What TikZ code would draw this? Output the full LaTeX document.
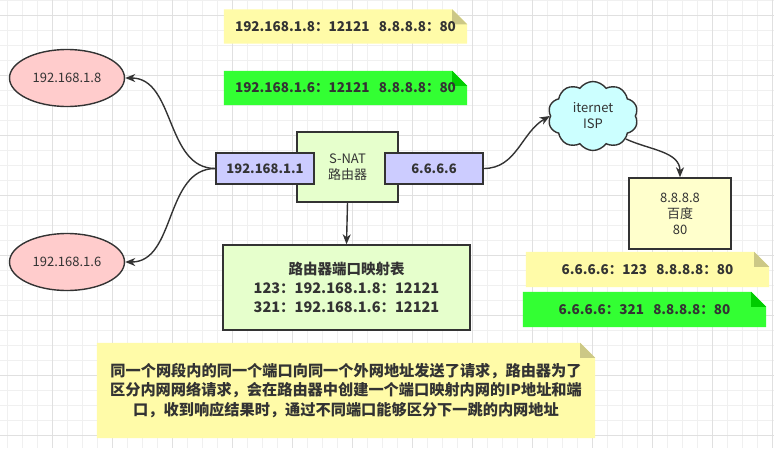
\documentclass[tikz,border=0pt]{standalone}
\usepackage{fontspec}
\setmainfont{Noto Sans CJK SC}
\usepackage{tikz}
\usetikzlibrary{arrows.meta, positioning, shapes.geometric, shapes.symbols, backgrounds}

\definecolor{ink}{HTML}{333333}
\definecolor{gridminor}{HTML}{F0F0F0}
\definecolor{gridmajor}{HTML}{E0E0E0}
\definecolor{hostred}{HTML}{FFCCCC}
\definecolor{portblue}{HTML}{CCCCFF}
\definecolor{routergreen}{HTML}{E6FFCC}
\definecolor{cloudcyan}{HTML}{CCFFFF}
\definecolor{serveryellow}{HTML}{FFFFCC}
\definecolor{noteyellow}{HTML}{FFFBA8}
\definecolor{foldyellow}{HTML}{CCC886}
\definecolor{notegreen}{HTML}{33FF33}
\definecolor{foldgreen}{HTML}{00CC00}

% note paper with a folded corner, drawn behind the text node
\newcommand{\notepaper}[3]{%
  \fill[#2] (#1.north west) -- ([xshift=-15pt]#1.north east) -- ([yshift=-15pt]#1.north east)
    -- (#1.south east) -- (#1.south west) -- cycle;
  \fill[#3] ([xshift=-15pt]#1.north east) -- ([xshift=-15pt,yshift=-15pt]#1.north east)
    -- ([yshift=-15pt]#1.north east) -- cycle;}

\begin{document}
\begin{tikzpicture}[x=1pt, y=-1pt, every node/.style={text=ink, font=\fontsize{13}{16}\selectfont},
    box/.style={rectangle, draw=ink, line width=1.4pt, align=center},
    host/.style={ellipse, draw=ink, line width=1.4pt, fill=hostred, minimum width=115pt, minimum height=57pt},
    port/.style={box, fill=portblue, minimum width=98pt, minimum height=31pt, font=\fontsize{13}{16}\selectfont\bfseries},
    note/.style={rectangle, align=center, minimum width=243pt, minimum height=34pt, font=\fontsize{13.5}{16}\selectfont\bfseries},
    link/.style={draw=ink, line width=1.4pt, -{Stealth[length=10pt, width=8pt, inset=3pt]}}]
    \useasboundingbox (0,0) rectangle (774,448);

    \node[host] (ip8) at (67,78) {192.168.1.8};
    \node[host] (ip6) at (67,262) {192.168.1.6};
    \node[box, fill=routergreen, minimum width=101pt, minimum height=70pt] (router) at (347.5,167) {S-NAT\\路由器};
    \node[port] (lport) at (265,168.5) {192.168.1.1};
    \node[port] (rport) at (434,168.5) {6.6.6.6};
    \node[box, fill=routergreen, minimum width=247pt, minimum height=85pt, font=\fontsize{14.5}{19}\selectfont\bfseries] (table) at (346.5,287.5)
        {路由器端口映射表\\123：192.168.1.8：12121\\321：192.168.1.6：12121};
    \node[cloud, cloud puffs=10, cloud puff arc=110, aspect=1.3, draw=ink, line width=1.4pt, fill=cloudcyan,
        minimum width=90pt, minimum height=69pt, inner sep=0pt, align=center] (isp) at (593,116) {iternet\\ISP};
    \node[box, fill=serveryellow, minimum width=102pt, minimum height=71pt] (baidu) at (680,213.5) {8.8.8.8\\百度\\80};

    \node[note] (req8) at (345.5,26.5) {192.168.1.8：12121 \ \ 8.8.8.8：80};
    \node[note] (req6) at (345.5,88) {192.168.1.6：12121 \ \ 8.8.8.8：80};
    \node[note, minimum height=35pt] (out123) at (647.5,269.5) {6.6.6.6：123 \ \ 8.8.8.8：80};
    \node[note, minimum height=35pt] (out321) at (644.5,309.5) {6.6.6.6：321 \ \ 8.8.8.8：80};
    \node[note, minimum width=498pt, minimum height=95pt, font=\fontsize{15.2}{19.5}\selectfont\bfseries] (memo) at (346,390.5)
        {同一个网段内的同一个端口向同一个外网地址发送了请求，路由器为了\\区分内网网络请求，会在路由器中创建一个端口映射内网的IP地址和端\\口，收到响应结果时，通过不同端口能够区分下一跳的内网地址};
    \begin{scope}[on background layer]
        % background grid
        \foreach \gx in {0,...,51} \draw[gridminor, line width=1pt] (7.5+15*\gx,0) -- (7.5+15*\gx,448);
        \foreach \gy in {0,...,29} \draw[gridminor, line width=1pt] (0,15*\gy) -- (774,15*\gy);
        \foreach \gx in {0,...,12} \draw[gridmajor, line width=1pt] (52.5+60*\gx,0) -- (52.5+60*\gx,448);
        \foreach \gy in {0,...,7} \draw[gridmajor, line width=1pt] (0,15+60*\gy) -- (774,15+60*\gy);
        \notepaper{req8}{noteyellow}{foldyellow}
        \notepaper{req6}{notegreen}{foldgreen}
        \notepaper{out123}{noteyellow}{foldyellow}
        \notepaper{out321}{notegreen}{foldgreen}
        \notepaper{memo}{noteyellow}{foldyellow}
    \end{scope}

    \draw[link] (lport.west) to[out=180, in=0] (ip8.east);
    \draw[link] (lport.west) to[out=180, in=0] (ip6.east);
    \draw[link] (router.south) -- (table.north);
    \draw[link] (rport.east) to[out=0, in=210] (isp.west);
    \draw[link] (isp.-35) to[out=-25, in=90] (baidu.north);
\end{tikzpicture}
\end{document}
